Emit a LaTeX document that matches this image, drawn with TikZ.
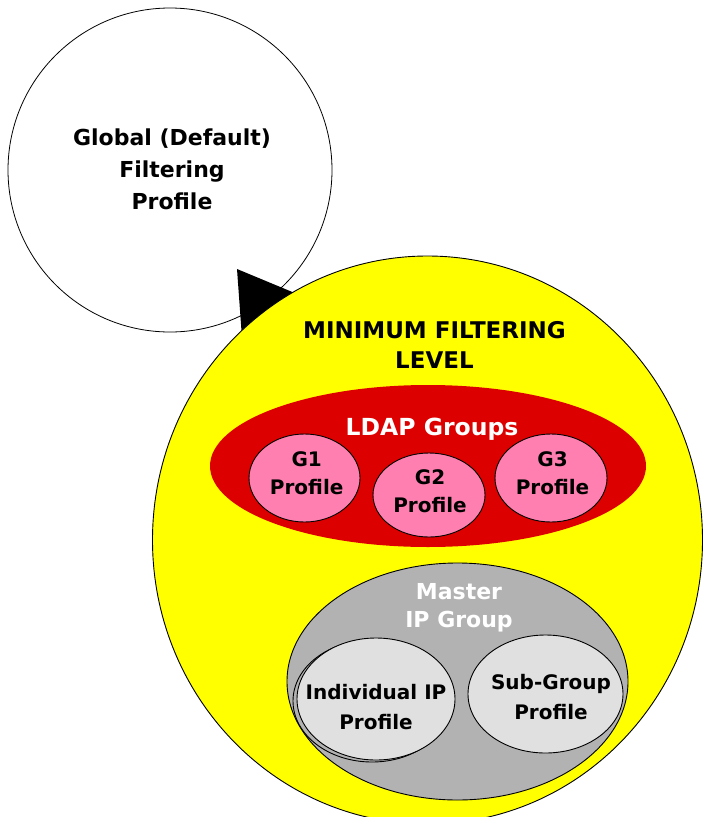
\documentclass[tikz,border=0pt]{standalone}
\usepackage{fontspec}
\setmainfont{DejaVu Sans}
\usetikzlibrary{shapes.geometric}
\definecolor{ylw}{RGB}{255,255,0}
\definecolor{ldapred}{RGB}{221,0,0}
\definecolor{pinkfill}{RGB}{255,128,176}
\definecolor{mastergray}{RGB}{178,178,178}
\definecolor{palegray}{RGB}{224,224,224}
\begin{document}
\begin{tikzpicture}[x=1pt,y=-1pt,
  blob/.style={ellipse, draw=black, line width=0.9pt, inner sep=0pt, outer sep=0pt},
  lbl/.style={align=center, inner sep=0pt, font=\bfseries\fontsize{20}{28}\selectfont},
]
\useasboundingbox (0,0) rectangle (704,817);
% global profile circle
\node[circle, draw=black, line width=0.8pt, fill=white, inner sep=0pt,
      minimum size=324pt] (global) at (170,170) {};
\node[lbl, font=\bfseries\fontsize{22}{32}\selectfont] (globaltxt) at (172,168.8)
  {Global (Default)\\Filtering\\Profile};
% arrowhead on the global circle
\coordinate (ahA) at (237,269);
\coordinate (ahB) at (242,338);
\coordinate (ahT) at (308,298.5);
\fill[black] (ahA) -- (ahT) -- (ahB) -- cycle;
% minimum filtering level
\node[blob, fill=ylw, minimum width=550pt, minimum height=568pt] (minimum) at (427.5,540) {};
\node[lbl, font=\bfseries\fontsize{23}{30}\selectfont] (mintxt) at (434.5,344.9)
  {MINIMUM FILTERING\\LEVEL};
% LDAP groups
\node[ellipse, fill=ldapred, inner sep=0pt, minimum width=436pt, minimum height=162pt] (ldap) at (428,466) {};
\node[anchor=base, inner sep=0pt, text=white, font=\bfseries\fontsize{23.5}{28}\selectfont] (ldaptxt) at (432,435.7) {LDAP Groups};
\node[blob, fill=pinkfill, minimum width=111pt, minimum height=88pt] (g1) at (304.5,478) {};
\node[blob, fill=pinkfill, minimum width=112pt, minimum height=84pt] (g2) at (429,495) {};
\node[blob, fill=pinkfill, minimum width=112pt, minimum height=88pt] (g3) at (551,478) {};
\node[lbl, font=\bfseries\fontsize{20}{27.6}\selectfont] (g1txt) at (306.7,473.2) {G1\\Profile};
\node[lbl, font=\bfseries\fontsize{20}{27.6}\selectfont] (g2txt) at (430,491.5) {G2\\Profile};
\node[lbl, font=\bfseries\fontsize{20}{27.6}\selectfont] (g3txt) at (552.5,473.2) {G3\\Profile};
% master IP group
\node[blob, fill=mastergray, minimum width=341pt, minimum height=237pt] (master) at (457.5,681.5) {};
\node[lbl, text=white, font=\bfseries\fontsize{22}{27.5}\selectfont] (mastertxt) at (459,608) {Master\\IP Group};
\node[blob, fill=mastergray, minimum width=158pt, minimum height=122pt] (indshadow) at (372,701) {};
\node[blob, fill=palegray, minimum width=158pt, minimum height=122pt] (indiv) at (376,699) {};
\node[blob, fill=palegray, minimum width=155pt, minimum height=118pt] (subgrp) at (545.5,694) {};
\node[lbl, font=\bfseries\fontsize{20}{30}\selectfont] (indivtxt) at (376,707.4) {Individual IP\\Profile};
\node[lbl, font=\bfseries\fontsize{20}{29.3}\selectfont] (subtxt) at (551,697) {Sub-Group\\Profile};
\end{tikzpicture}
\end{document}
